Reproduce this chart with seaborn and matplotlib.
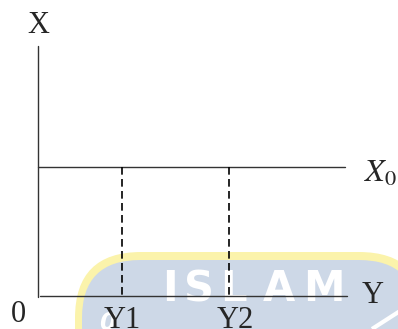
import matplotlib
matplotlib.use("Agg")
import matplotlib.pyplot as plt
from matplotlib.patches import FancyBboxPatch
import pandas as pd
import seaborn as sns

# Diagram values (in axis units)
y_names = ["Y1", "Y2"]
y_values = [2.0, 4.55]
x0_level = 3.05
y_axis_end = 7.36
x_axis_end = 5.94

sns.set_theme(style="white")
plt.rcParams["font.family"] = ["Liberation Serif", "DejaVu Serif"]
plt.rcParams["mathtext.fontset"] = "stix"

W, H, DPI = 398, 329, 100
PPU = 42.0                 # pixels per axis unit
ORIGIN = (38.0, 295.5)     # pixel position of the origin


def to_data(px, py):
    return (px - ORIGIN[0]) / PPU, (ORIGIN[1] - py) / PPU


fig = plt.figure(figsize=(W / DPI, H / DPI), dpi=DPI)
ax = fig.add_axes([0, 0, 1, 1])
ax.set_xlim(to_data(0, 0)[0], to_data(W, 0)[0])
ax.set_ylim(to_data(0, H)[1], to_data(0, 0)[1])
ax.axis("off")

# --- background logo watermark ---
def rounded(px_l, py_t, px_r, py_b, r_px, color, z):
    x_l, y_t = to_data(px_l, py_t)
    x_r, y_b = to_data(px_r, py_b)
    p = FancyBboxPatch((x_l, y_b), x_r - x_l, y_t - y_b,
                       boxstyle=f"round,pad=0,rounding_size={r_px / PPU}",
                       fc=color, ec="none", zorder=z)
    ax.add_patch(p)

rounded(75, 252, 425, 450, 66, "#fbf3ab", 0)
rounded(82, 260, 417, 450, 58, "#cdd8e7", 0.1)

for ch, cx in zip("ISLAM", [170, 199, 233, 279, 324]):
    tx, ty = to_data(cx, 301)
    ax.text(tx, ty, ch, color="white", fontsize=30, family="DejaVu Sans",
            weight="bold", ha="center", va="baseline", zorder=0.2)
tx, ty = to_data(107, 330)
ax.text(tx, ty, "0", color="white", fontsize=17, family="DejaVu Sans",
        style="italic", weight="bold", ha="center", va="baseline", zorder=0.2)
(ax1, ay1), (ax2, ay2) = to_data(372, 329), to_data(400, 311)
ax.plot([ax1, ax2], [ay1, ay2], color="white", lw=3, solid_capstyle="butt", zorder=0.2)

# --- axes of the diagram ---
haxis_df = pd.DataFrame({"y": [0.05, y_axis_end], "x": [0, 0]})
sns.lineplot(data=haxis_df, x="y", y="x", ax=ax, color="#333333", lw=1.0,
             estimator=None, sort=False, zorder=3)
vaxis_df = pd.DataFrame({"y": [0, 0], "x": [-0.04, x_axis_end]})
sns.lineplot(data=vaxis_df, x="y", y="x", ax=ax, color="#333333", lw=1.0,
             estimator=None, sort=False, zorder=3)

# horizontal level X0
level_df = pd.DataFrame({"y": [0, y_axis_end - 0.05], "x": [x0_level, x0_level]})
sns.lineplot(data=level_df, x="y", y="x", ax=ax, color="#333333", lw=1.0,
             estimator=None, sort=False, zorder=3)

# dashed drop lines at Y1, Y2
for yv in y_values:
    drop_df = pd.DataFrame({"y": [yv, yv], "x": [x0_level, 0]})
    sns.lineplot(data=drop_df, x="y", y="x", ax=ax, color="black", lw=1.2,
                 estimator=None, sort=False, zorder=3,
                 linestyle=(0, (4.6, 2.6)))

# --- labels ---
fs = 22
lx, ly = to_data(38, 33)
ax.text(lx, ly, "X", fontsize=fs, ha="center", va="baseline", zorder=4)
lx, ly = to_data(373, 303)
ax.text(lx, ly, "Y", fontsize=fs, ha="center", va="baseline", zorder=4)
lx, ly = to_data(18, 322)
ax.text(lx, ly, "0", fontsize=fs, ha="center", va="baseline", zorder=4)
lx, ly = to_data(364, 182)
ax.text(lx, ly, r"$X_0$", fontsize=23, ha="left", va="baseline", zorder=4)

for name, yv, dx in zip(y_names, y_values, [0, 6]):
    bx = yv + dx / PPU
    ax.text(bx, to_data(0, 327.5)[1], name, fontsize=fs, ha="center",
            va="baseline", zorder=4)

if ax.get_legend() is not None:
    ax.get_legend().remove()

fig.savefig("out.png", dpi=DPI, facecolor="white")
